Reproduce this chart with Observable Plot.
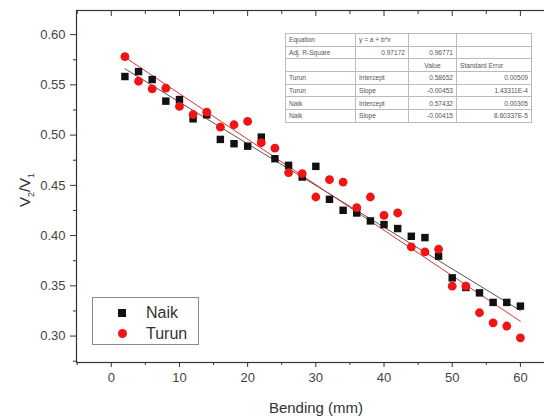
<!DOCTYPE html>
<html><head><meta charset="utf-8">
<script src="https://cdn.jsdelivr.net/npm/d3@7"></script>
<script src="https://cdn.jsdelivr.net/npm/@observablehq/plot@0.6"></script>
<style>
body{margin:0;background:#fff;font-family:Arial,"Liberation Sans",sans-serif;}
#wrap{position:relative;width:544px;height:416px;overflow:hidden;background:#fff;}
#wrap svg{position:absolute;left:0;top:0;max-width:none !important;}
#legend{position:absolute;left:92px;top:297px;width:105px;height:46px;border:1px solid #8a8a8a;background:#fff;}
.li{position:absolute;left:0;width:105px;height:20px;}
.li .sw{position:absolute;}
.li .tx{position:absolute;left:53px;top:0;font-size:16px;line-height:20px;color:#333;}
#tbl{position:absolute;left:285px;top:33px;border-collapse:collapse;background:#fff;font-size:6.6px;color:#555;border:1px solid #999;table-layout:fixed;}
#tbl td{border:1px solid #bbb;height:11.7px;padding:0 3px;white-space:nowrap;overflow:hidden;line-height:11px;}
#tbl td.r{text-align:right;}
#tbl td.c{text-align:center;}
</style></head><body><div id="wrap"></div>
<script>
// ---- data ----
const bending = [2,4,6,8,10,12,14,16,18,20,22,24,26,28,30,32,34,36,38,40,42,44,46,48,50,52,54,56,58,60];
const naik = [0.5583,0.5632,0.5553,0.5338,0.5354,0.5162,0.5202,0.4957,0.4914,0.4890,0.4980,0.4765,0.4699,0.4583,0.4689,0.4361,0.4252,0.4225,0.4146,0.4110,0.4070,0.3993,0.3980,0.3795,0.3579,0.3484,0.3430,0.3335,0.3335,0.3298];
const turun = [0.5780,0.5536,0.5460,0.5467,0.5285,0.5205,0.5228,0.5079,0.5103,0.5136,0.4924,0.4870,0.4626,0.4616,0.4384,0.4557,0.4533,0.4278,0.4384,0.4202,0.4225,0.3887,0.3837,0.3864,0.3497,0.3497,0.3232,0.3132,0.3100,0.2983];
const seriesNames = ["Naik","Turun"];
const seriesColors = ["#111111","#f01414"];
const fitIntercept = {Turun:0.58652, Naik:0.57432};
const fitSlope = {Turun:-0.00453, Naik:-0.00415};
const fitRange = [2,60];
const xMajor = [0,10,20,30,40,50,60];
const xMinor = [-5,5,15,25,35,45,55,65];
const yMajor = [0.30,0.35,0.40,0.45,0.50,0.55,0.60];
const yMinor = [0.275,0.325,0.375,0.425,0.475,0.525,0.575];
const xDomain = [-5.1,65];
const yDomain = [0.2737,0.624];
const tableHead = [["Equation","y = a + b*x","",""],["Adj. R-Square","0.97172","0.96771",""],["","","Value","Standard Error"]];
const tableRowSeries = ["Turun","Turun","Naik","Naik"];
const tableRowParam = ["Intercept","Slope","Intercept","Slope"];
const tableRowValue = ["0.58652","-0.00453","0.57432","-0.00415"];
const tableRowErr = ["0.00509","1.43311E-4","0.00305","8.60337E-5"];

// ---- build ----
const pts = [];
bending.forEach((b,i)=>{ pts.push({x:b,y:naik[i],s:"Naik"}); pts.push({x:b,y:turun[i],s:"Turun"}); });
const fits = [];
for (const s of ["Naik","Turun"]) for (const x of fitRange) fits.push({s, x, y: fitIntercept[s] + fitSlope[s]*x});

const axisColor = "#333";
const plot = Plot.plot({
  width: 554, height: 416,
  marginLeft: 76, marginRight: 0, marginTop: 10, marginBottom: 54,
  style: {fontFamily: "Arial, 'Liberation Sans', sans-serif", fontSize: "13px", color: "#444", background: "transparent", maxWidth: "none"},
  x: {domain: xDomain},
  y: {domain: yDomain},
  color: {domain: seriesNames, range: seriesColors},
  marks: [
    Plot.frame({stroke: axisColor, strokeWidth: 1.2}),
    Plot.axisX({ticks: xMajor, tickSize: 5, tickPadding: 5, tickFormat: d=>d, label: null, stroke: axisColor, fill: "#444"}),
    Plot.axisX({ticks: xMinor, tickSize: 3, text: null, label: null, stroke: axisColor}),
    Plot.axisX({anchor: "top", ticks: xMajor, tickSize: -5, text: null, label: null, stroke: axisColor}),
    Plot.axisX({anchor: "top", ticks: xMinor, tickSize: -3, text: null, label: null, stroke: axisColor}),
    Plot.axisY({ticks: yMajor, tickSize: 6, tickPadding: 5, tickFormat: d3.format(".2f"), label: null, stroke: axisColor, fill: "#444"}),
    Plot.axisY({ticks: yMinor, tickSize: 3, text: null, label: null, stroke: axisColor}),
    Plot.line(fits, {x: "x", y: "y", z: "s", stroke: d => d.s === "Naik" ? "#555" : "#e03030", strokeWidth: 1}),
    Plot.dot(pts.filter(d=>d.s==="Naik"), {x: "x", y: "y", symbol: "square", r: 4.2, fill: seriesColors[0], stroke: null}),
    Plot.dot(pts.filter(d=>d.s==="Turun"), {x: "x", y: "y", symbol: "circle", r: 4.4, fill: seriesColors[1], stroke: null})
  ]
});
plot.style.maxWidth = "none";
plot.style.width = "554px";
plot.style.height = "416px";
const wrap = document.getElementById("wrap");
wrap.appendChild(plot);

const svg = d3.select(plot);
// axis titles
svg.append("text").attr("x", 316).attr("y", 413).attr("text-anchor","middle")
  .attr("font-size", 15).attr("fill", "#333").attr("font-family","Arial, 'Liberation Sans', sans-serif").text("Bending (mm)");
const yl = svg.append("text").attr("transform","translate(30,190) rotate(-90)").attr("text-anchor","middle")
  .attr("font-size", 15).attr("fill", "#333").attr("font-family","Arial, 'Liberation Sans', sans-serif");
yl.append("tspan").text("V");
yl.append("tspan").attr("font-size", 9).attr("dy", 4).text("2");
yl.append("tspan").attr("dy", -4).text("/V");
yl.append("tspan").attr("font-size", 9).attr("dy", 4).text("1");

// legend
const lg = document.createElement("div"); lg.id = "legend";
seriesNames.forEach((n,i)=>{
  const it = document.createElement("div"); it.className = "li"; it.style.top = (i===0? 5 : 25.5) + "px";
  const sw = document.createElement("div"); sw.className = "sw";
  if (i===0) { sw.style.cssText = `left:25px;top:6px;width:8px;height:8px;background:${seriesColors[0]};`; }
  else { sw.style.cssText = `left:24.5px;top:5.5px;width:9px;height:9px;border-radius:50%;background:${seriesColors[1]};`; }
  const tx = document.createElement("div"); tx.className = "tx"; tx.textContent = n;
  it.appendChild(sw); it.appendChild(tx); lg.appendChild(it);
});
wrap.appendChild(lg);

// fit table
const tbl = document.createElement("table"); tbl.id = "tbl";
const cg = document.createElement("colgroup");
[70,53,48,75].forEach(w=>{const c=document.createElement("col"); c.style.width=w+"px"; cg.appendChild(c);});
tbl.appendChild(cg);
const aligns = [["","","",""],["","r","r",""],["","","c",""]];
tableHead.forEach((row,ri)=>{
  const tr = document.createElement("tr");
  row.forEach((v,ci)=>{ const td=document.createElement("td"); td.textContent=v; if(aligns[ri][ci]) td.className=aligns[ri][ci]; tr.appendChild(td); });
  tbl.appendChild(tr);
});
tableRowSeries.forEach((s,i)=>{
  const tr = document.createElement("tr");
  [[s,""],[tableRowParam[i],""],[tableRowValue[i],"r"],[tableRowErr[i],"r"]].forEach(([v,c])=>{
    const td=document.createElement("td"); td.textContent=v; if(c) td.className=c; tr.appendChild(td);
  });
  tbl.appendChild(tr);
});
wrap.appendChild(tbl);
</script></body></html>
